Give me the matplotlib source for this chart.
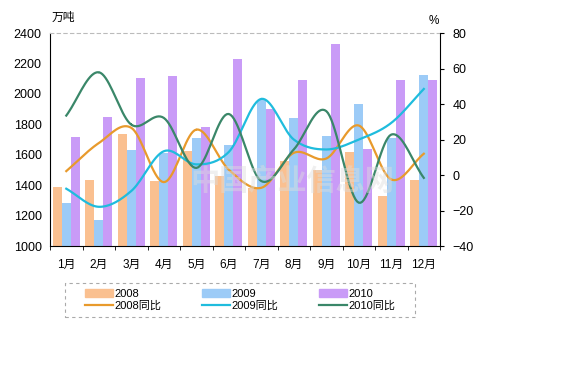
import numpy as np
import matplotlib
matplotlib.use("Agg")
import matplotlib.pyplot as plt
from matplotlib.patches import Patch, Rectangle
from matplotlib.lines import Line2D

plt.rcParams['font.family'] = ['Liberation Sans', 'Noto Sans CJK SC', 'DejaVu Sans']

# ---- data ----
months = ["1月", "2月", "3月", "4月", "5月", "6月",
          "7月", "8月", "9月", "10月", "11月", "12月"]
out_2008 = [1389, 1431, 1735, 1427, 1623, 1459, 1383, 1560, 1503, 1615, 1332, 1437]
out_2009 = [1280, 1168, 1634, 1612, 1709, 1661, 1962, 1844, 1720, 1936, 1708, 2127]
out_2010 = [1715, 1851, 2107, 2120, 1785, 2232, 1903, 2094, 2330, 1641, 2094, 2089]
yoy_2008 = [2.2, 18, 26.6, -4, 25.6, 3, -7.2, 12.5, 9.3, 27.9, -2.5, 12]
yoy_2009 = [-7.7, -17.9, -9, 13.4, 6, 13, 42.9, 20, 14.4, 20, 29.4, 48.5]
yoy_2010 = [33.5, 57.9, 28.4, 32.2, 4, 34.4, -3.4, 14.4, 36, -15.6, 22.8, -1.6]

c08, c09, c10 = "#FAC090", "#9CCBF7", "#C99BF7"
l08, l09, l10 = "#E89A2C", "#1FBCDD", "#3A8769"


def smooth(x, y, n=20):
    # catmull-rom, like the excel "smoothed line" option
    x = np.asarray(x, float)
    y = np.asarray(y, float)
    px = np.concatenate([[2 * x[0] - x[1]], x, [2 * x[-1] - x[-2]]])
    py = np.concatenate([[2 * y[0] - y[1]], y, [2 * y[-1] - y[-2]]])
    xs, ys = [], []
    t = np.linspace(0, 1, n)
    for i in range(1, len(px) - 2):
        for p, out in ((px, xs), (py, ys)):
            p0, p1, p2, p3 = p[i - 1], p[i], p[i + 1], p[i + 2]
            out.extend(0.5 * (2 * p1 + (-p0 + p2) * t
                              + (2 * p0 - 5 * p1 + 4 * p2 - p3) * t ** 2
                              + (-p0 + 3 * p1 - 3 * p2 + p3) * t ** 3))
    return xs, ys


fig = plt.figure(figsize=(5.73, 3.8), dpi=100)
ax = fig.add_axes([0.0873, 0.3526, 0.6807, 0.5604])
x = np.arange(len(months))
w = 0.28
ax.bar(x - w, out_2008, w, color=c08, zorder=2)
ax.bar(x, out_2009, w, color=c09, zorder=2)
ax.bar(x + w, out_2010, w, color=c10, zorder=2)
ax.set_ylim(1000, 2400)
ax.set_xlim(-0.5, 11.5)
ax.set_yticks(range(1000, 2401, 200))
ax.set_xticks(x)
ax.set_xticklabels(months, fontsize=8.5)
ax.set_xticks(np.arange(-0.5, 12, 1), minor=True)
ax.tick_params(axis='x', which='major', length=0, pad=9)
ax.tick_params(axis='x', which='minor', length=3, direction='out')
ax.tick_params(axis='y', length=0, labelsize=9, pad=6)
ax.spines['top'].set_color('#BBBBBB')
ax.spines['top'].set_linestyle((0, (3, 3)))
ax.spines['top'].set_linewidth(0.8)
ax.spines['right'].set_visible(False)

ax2 = ax.twinx()
for yy, col in ((yoy_2008, l08), (yoy_2009, l09), (yoy_2010, l10)):
    sx, sy = smooth(x, yy)
    ax2.plot(sx, sy, color=col, lw=1.6, zorder=3)
ax2.set_ylim(-40, 80)
ax2.set_yticks(range(-40, 81, 20))
ax2.tick_params(axis='y', length=3, labelsize=9, pad=6)
ax2.spines['top'].set_visible(False)
ax2.spines['left'].set_visible(False)
ax2.spines['bottom'].set_visible(False)

ax.text(0.005, 1.07, "万吨", transform=ax.transAxes, fontsize=8.5, va='center')
ax2.text(0.985, 1.055, "%", transform=ax.transAxes, fontsize=8.5, va='center', ha='center')

# faint site watermark
ax2.text(0.62, 0.3, "中国产业信息网", transform=ax.transAxes, fontsize=21,
         color='#DDDDDD', alpha=0.45, ha='center', va='center', zorder=4,
         fontweight='bold')

# legend box (dashed, drawn by hand so the side padding can be wider)
fig.patches.append(Rectangle((0.1134, 0.1658), 0.6109, 0.0895, transform=fig.transFigure,
                             fill=False, edgecolor='#AAAAAA', lw=0.8,
                             linestyle=(0, (3, 3))))
handles = [Patch(color=c08), Line2D([], [], color=l08, lw=1.6),
           Patch(color=c09), Line2D([], [], color=l09, lw=1.6),
           Patch(color=c10), Line2D([], [], color=l10, lw=1.6)]
labels = ["2008", "2008同比", "2009", "2009同比", "2010", "2010同比"]
fig.legend(handles, labels, ncol=3, loc='center left', bbox_to_anchor=(0.149, 0.211),
           fontsize=8, frameon=False, handlelength=2.5,
           handleheight=0.8, handletextpad=0.1, columnspacing=3.7,
           labelspacing=0.15, borderpad=0, borderaxespad=0)

fig.savefig("out.png", dpi=100)
